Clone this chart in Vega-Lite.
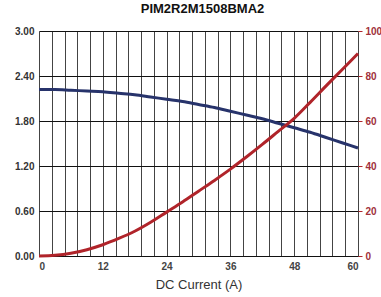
{
  "$schema": "https://vega.github.io/schema/vega-lite/v6.json",
  "width": 319,
  "height": 225,
  "autosize": {"type": "none"},
  "padding": {"left": 39, "top": 31, "right": 23, "bottom": 41},
  "background": "white",
  "title": {"text": "PIM2R2M1508BMA2", "font": "Liberation Sans", "fontSize": 13, "fontWeight": "bold", "color": "#111", "offset": 10, "anchor": "middle", "dx": 4},
  "config": {"view": {"stroke": null}, "axis": {"labelFont": "Liberation Sans", "titleFont": "Liberation Sans"}},
  "data": {"values": [
    {"current": 0, "inductance": 2.22, "temp_rise": 0},
    {"current": 3, "inductance": 2.22, "temp_rise": 0.3},
    {"current": 6, "inductance": 2.21, "temp_rise": 1.2},
    {"current": 9, "inductance": 2.2, "temp_rise": 2.8},
    {"current": 12, "inductance": 2.19, "temp_rise": 5},
    {"current": 15, "inductance": 2.17, "temp_rise": 7.8},
    {"current": 18, "inductance": 2.15, "temp_rise": 11},
    {"current": 21, "inductance": 2.12, "temp_rise": 15},
    {"current": 24, "inductance": 2.09, "temp_rise": 19.5},
    {"current": 27, "inductance": 2.06, "temp_rise": 24},
    {"current": 30, "inductance": 2.02, "temp_rise": 28.8},
    {"current": 33, "inductance": 1.98, "temp_rise": 33.6},
    {"current": 36, "inductance": 1.93, "temp_rise": 38.6},
    {"current": 39, "inductance": 1.88, "temp_rise": 44},
    {"current": 42, "inductance": 1.83, "temp_rise": 49.6},
    {"current": 45, "inductance": 1.77, "temp_rise": 55.4},
    {"current": 48, "inductance": 1.71, "temp_rise": 61.2},
    {"current": 51, "inductance": 1.65, "temp_rise": 68.3},
    {"current": 54, "inductance": 1.58, "temp_rise": 75.6},
    {"current": 57, "inductance": 1.51, "temp_rise": 82.8},
    {"current": 60, "inductance": 1.44, "temp_rise": 90}
  ]},
  "layer": [
    {
      "mark": {"type": "line", "color": "#27336b", "strokeWidth": 3, "interpolate": "monotone"},
      "encoding": {
        "x": {"field": "current", "type": "quantitative", "scale": {"domain": [0, 60], "nice": false},
          "axis": {"orient": "bottom", "values": [0, 2.4, 4.8, 7.2, 9.6, 12, 14.4, 16.8, 19.2, 21.6, 24, 26.4, 28.8, 31.2, 33.6, 36, 38.4, 40.8, 43.2, 45.6, 48, 50.4, 52.8, 55.2, 57.6, 60],
            "labels": false, "ticks": false, "domain": false, "grid": true, "gridColor": "#444", "gridOpacity": 1, "gridWidth": 1, "title": null}},
        "y": {"field": "inductance", "type": "quantitative", "scale": {"domain": [0, 3], "nice": false},
          "axis": {"orient": "left", "values": [0, 0.6, 1.2, 1.8, 2.4, 3], "format": ".2f", "grid": true, "gridColor": "#111", "gridOpacity": 1, "gridWidth": 1,
            "ticks": false, "domain": false, "labelFontSize": 10, "labelFontWeight": "bold", "labelColor": "#333", "labelPadding": 5, "title": null}}
      }
    },
    {
      "mark": {"type": "line", "color": "#b0242a", "strokeWidth": 3, "interpolate": "monotone"},
      "encoding": {
        "x": {"field": "current", "type": "quantitative", "scale": {"domain": [0, 60], "nice": false},
          "axis": {"orient": "bottom", "values": [0, 12, 24, 36, 48, 60], "grid": false, "ticks": false, "domain": true, "domainColor": "#111",
            "labelFontSize": 10, "labelFontWeight": "bold", "labelColor": "#444", "labelPadding": 5,
            "title": "DC Current (A)", "titleFontSize": 13, "titleFontWeight": "normal", "titleColor": "#333", "titlePadding": 7}},
        "y": {"field": "temp_rise", "type": "quantitative", "scale": {"domain": [0, 100], "nice": false},
          "axis": {"orient": "right", "values": [0, 20, 40, 60, 80, 100], "grid": false, "ticks": true, "tickColor": "#b0242a", "tickSize": 4, "domain": false,
            "labelFontSize": 10, "labelFontWeight": "bold", "labelColor": "#a0303a", "labelPadding": 3, "title": null}}
      }
    }
  ],
  "resolve": {"scale": {"y": "independent"}, "axis": {"x": "independent"}}
}
